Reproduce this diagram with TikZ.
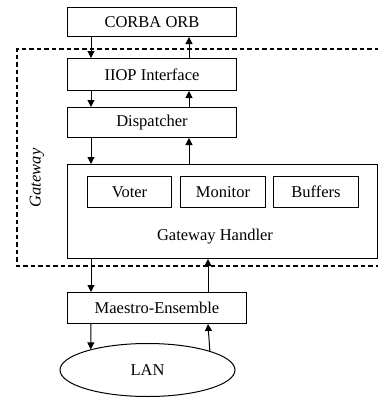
\documentclass[tikz,border=0pt]{standalone}
\usepackage{fontspec}
\setmainfont{Liberation Serif}
\usetikzlibrary{arrows.meta,shapes.geometric}
\begin{document}
\begin{tikzpicture}[x=1pt,y=-1pt,
  box/.style={draw,line width=1pt,inner sep=0pt,anchor=north west,font=\fontsize{16.5}{20}\selectfont},
  arr/.style={line width=1pt,-{Triangle[length=7pt,width=7pt]}},
  dsh/.style={line width=1.4pt,dash pattern=on 4.5pt off 3pt}]
\useasboundingbox (0,0) rectangle (378,400);
% dashed gateway boundary
\draw[dsh] (379,49) -- (17,49) -- (17,266) -- (379,266);
\node[font=\fontsize{16.5}{20}\selectfont\itshape,rotate=90] (gwlab) at (37,178) {Gateway};
% boxes
\node[box,minimum width=169pt,minimum height=29pt] (corba) at (67,7) {CORBA ORB};
\node[box,minimum width=169pt,minimum height=32pt] (iiop) at (67,58) {IIOP Interface};
\node[box,minimum width=169pt,minimum height=30pt] (disp) at (67,107) {Dispatcher};
\node[box,minimum width=310pt,minimum height=94pt] (gh) at (67,164) {};
\node[font=\fontsize{16.5}{20}\selectfont] (ghlab) at (215,237) {Gateway Handler};
\node[box,minimum width=84pt,minimum height=31pt] (voter) at (87,176) {Voter};
\node[box,minimum width=85pt,minimum height=31pt] (monitor) at (180,176) {Monitor};
\node[box,minimum width=85pt,minimum height=31pt] (buffers) at (273,176) {Buffers};
\node[box,minimum width=179pt,minimum height=31pt] (maestro) at (67,292) {Maestro-Ensemble};
\node[draw,line width=1pt,ellipse,inner sep=0pt,minimum width=175pt,minimum height=53pt,font=\fontsize{16.5}{20}\selectfont] (lan) at (147.5,370) {LAN};
% arrow columns
\coordinate (xl) at (91,0);
\coordinate (xr) at (189,0);
\coordinate (xr2) at (208,0);
\draw[arr] (corba.south -| xl) -- (iiop.north -| xl);
\draw[arr] (iiop.north -| xr) -- (corba.south -| xr);
\draw[arr] (iiop.south -| xl) -- (disp.north -| xl);
\draw[arr] (disp.north -| xr) -- (iiop.south -| xr);
\draw[arr] (disp.south -| xl) -- (gh.north -| xl);
\draw[arr] (gh.north -| xr) -- (disp.south -| xr);
\draw[arr] (gh.south -| xl) -- (maestro.north -| xl);
\draw[arr] (maestro.north -| xr2) -- (gh.south -| xr2);
\draw[arr] (maestro.south -| xl) -- (lan.160.3);
\draw[arr] (lan.17.5) -- (maestro.south -| xr2);
\end{tikzpicture}
\end{document}
